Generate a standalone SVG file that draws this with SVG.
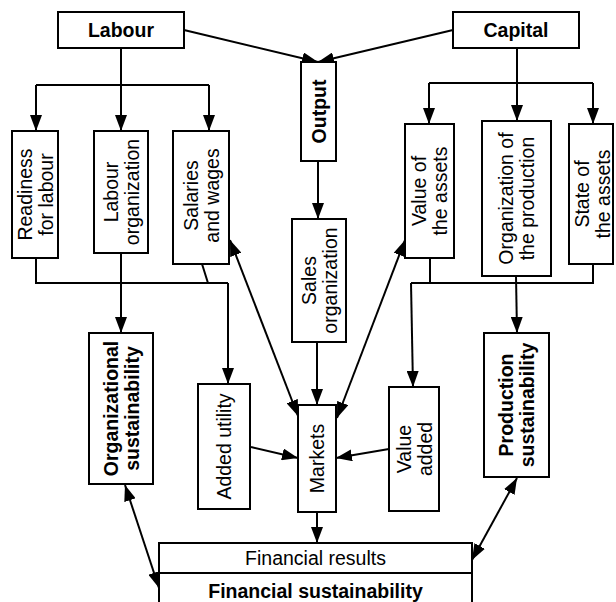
<svg xmlns="http://www.w3.org/2000/svg" width="616" height="602" viewBox="0 0 616 602">
<style>
.box{fill:#fff;stroke:#000;stroke-width:2}
.t{font-family:"Liberation Sans",Arial,sans-serif;font-size:19.5px;fill:#000;text-anchor:middle}
.b{font-weight:bold}
.ln{fill:none;stroke:#000;stroke-width:2}
.a{marker-end:url(#ah)}
.d{marker-start:url(#ahs);marker-end:url(#ah)}
</style>
<defs>
<marker id="ah" viewBox="0 0 16 12" refX="16" refY="6" markerWidth="16" markerHeight="12" markerUnits="userSpaceOnUse" orient="auto"><path d="M0,0 L16,6 L0,12 z" fill="#000"/></marker>
<marker id="ahs" viewBox="0 0 16 12" refX="0" refY="6" markerWidth="16" markerHeight="12" markerUnits="userSpaceOnUse" orient="auto"><path d="M16,0 L0,6 L16,12 z" fill="#000"/></marker>
</defs>
<rect width="616" height="602" fill="#fff"/>
<g id="connectors">
<line class="ln a" x1="184" y1="30" x2="318" y2="62"/>
<line class="ln a" x1="453" y1="30" x2="318" y2="62"/>
<polyline class="ln" points="121,48 121,85"/>
<polyline class="ln" points="36,85 209,85"/>
<line class="ln a" x1="36" y1="85" x2="36" y2="131"/>
<line class="ln a" x1="121" y1="85" x2="121" y2="131"/>
<line class="ln a" x1="209" y1="85" x2="209" y2="131"/>
<polyline class="ln" points="517,48 517,83"/>
<polyline class="ln" points="429,83 593,83"/>
<line class="ln a" x1="429" y1="83" x2="429" y2="124"/>
<line class="ln a" x1="517" y1="83" x2="517" y2="121"/>
<line class="ln a" x1="593" y1="83" x2="593" y2="124"/>
<line class="ln a" x1="318" y1="161" x2="318" y2="219"/>
<polyline class="ln" points="36,258 36,283 228,283"/>
<line class="ln" x1="202" y1="264" x2="208" y2="283"/>
<line class="ln a" x1="228" y1="283" x2="228" y2="384"/>
<line class="ln a" x1="121" y1="253" x2="121" y2="333"/>
<polyline class="ln" points="430,258 430,283"/>
<polyline class="ln" points="593,264 593,283 411,283"/>
<line class="ln a" x1="411" y1="283" x2="413" y2="387"/>
<line class="ln a" x1="516" y1="276" x2="517" y2="333"/>
<line class="ln d" x1="230" y1="240" x2="298" y2="416"/>
<line class="ln d" x1="405" y1="240" x2="337" y2="418"/>
<line class="ln a" x1="317" y1="342" x2="317" y2="405"/>
<line class="ln a" x1="251" y1="447" x2="298" y2="458"/>
<line class="ln a" x1="389" y1="449" x2="336" y2="458"/>
<line class="ln a" x1="317" y1="512" x2="317" y2="543"/>
<line class="ln d" x1="125" y1="485" x2="159" y2="588"/>
<line class="ln d" x1="517" y1="478" x2="472" y2="560"/>
</g>
<g id="labour"><rect class="box" x="58" y="12" width="126" height="36"/><text class="t b" x="121" y="37">Labour</text></g>
<g id="capital"><rect class="box" x="453" y="12" width="126" height="36"/><text class="t b" x="516" y="37">Capital</text></g>
<g id="output"><rect class="box" x="301" y="62" width="35" height="99"/><text class="t b" transform="translate(318.5,111.5) rotate(-90)" y="7">Output</text></g>
<g id="readiness"><rect class="box" x="12" y="131" width="46" height="127"/><text class="t" transform="translate(35,194.5) rotate(-90)"><tspan x="0" y="-3.5">Readiness</tspan><tspan x="0" y="17.5">for labour</tspan></text></g>
<g id="labour-org"><rect class="box" x="94" y="131" width="54" height="122"/><text class="t" transform="translate(121,192) rotate(-90)"><tspan x="0" y="-3.5">Labour</tspan><tspan x="0" y="17.5">organization</tspan></text></g>
<g id="salaries"><rect class="box" x="173" y="131" width="56" height="133"/><text class="t" transform="translate(201,195.5) rotate(-90)"><tspan x="0" y="-3.5">Salaries</tspan><tspan x="0" y="17.5">and wages</tspan></text></g>
<g id="sales-org"><rect class="box" x="292" y="219" width="54" height="123"/><text class="t" transform="translate(319,280.5) rotate(-90)"><tspan x="0" y="-3.5">Sales</tspan><tspan x="0" y="17.5">organization</tspan></text></g>
<g id="value-assets"><rect class="box" x="405" y="124" width="49" height="134"/><text class="t" transform="translate(429.5,191) rotate(-90)"><tspan x="0" y="-3.5">Value of</tspan><tspan x="0" y="17.5">the assets</tspan></text></g>
<g id="org-production"><rect class="box" x="482" y="121" width="69" height="155"/><text class="t" transform="translate(516.5,198.5) rotate(-90)"><tspan x="0" y="-3.5">Organization of</tspan><tspan x="0" y="17.5">the production</tspan></text></g>
<g id="state-assets"><rect class="box" x="569" y="124" width="44" height="140"/><text class="t" transform="translate(592,194) rotate(-90)"><tspan x="0" y="-3.5">State of</tspan><tspan x="0" y="17.5">the assets</tspan></text></g>
<g id="org-sust"><rect class="box" x="89" y="333" width="64" height="151"/><text class="t b" transform="translate(121,408.5) rotate(-90)"><tspan x="0" y="-3.5">Organizational</tspan><tspan x="0" y="17.5">sustainability</tspan></text></g>
<g id="added-utility"><rect class="box" x="198" y="384" width="52" height="125"/><text class="t" transform="translate(224,446.5) rotate(-90)" y="7">Added utility</text></g>
<g id="markets"><rect class="box" x="298" y="405" width="38" height="107"/><text class="t" transform="translate(317,458.5) rotate(-90)" y="7">Markets</text></g>
<g id="value-added"><rect class="box" x="389" y="387" width="50" height="124"/><text class="t" transform="translate(414,449) rotate(-90)"><tspan x="0" y="-3.5">Value</tspan><tspan x="0" y="17.5">added</tspan></text></g>
<g id="prod-sust"><rect class="box" x="484" y="333" width="65" height="144"/><text class="t b" transform="translate(516.5,405) rotate(-90)"><tspan x="0" y="-3.5">Production</tspan><tspan x="0" y="17.5">sustainability</tspan></text></g>
<g id="financial"><rect class="box" x="159" y="543" width="313" height="70"/><line class="ln" x1="159" y1="573" x2="472" y2="573"/><text class="t" x="315.5" y="565">Financial results</text><text class="t b" x="315.5" y="598">Financial sustainability</text></g>
</svg>
